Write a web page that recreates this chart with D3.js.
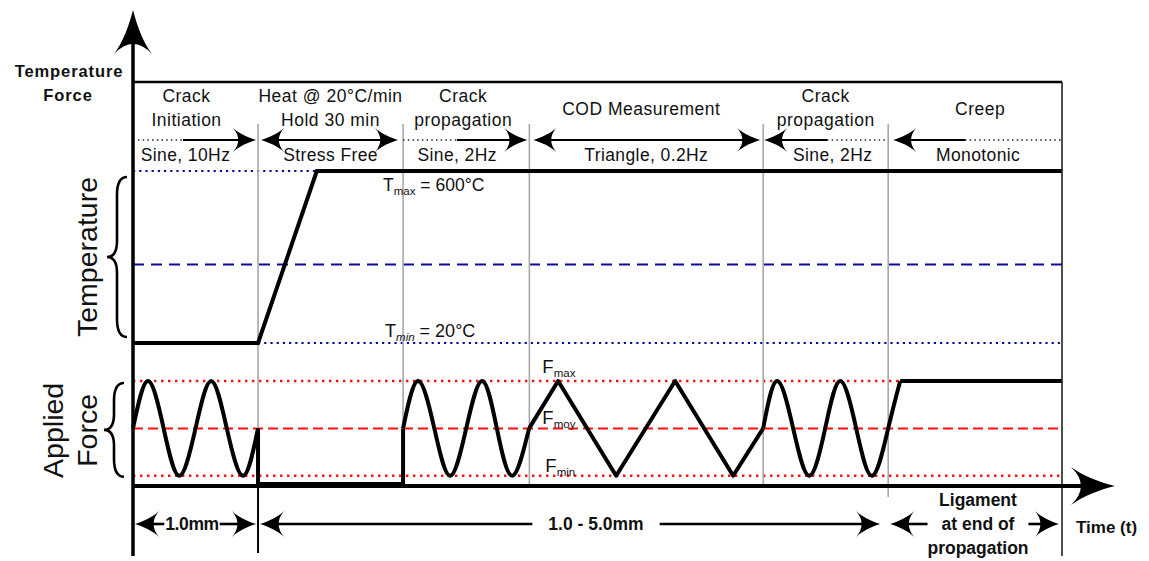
<!DOCTYPE html>
<html>
<head>
<meta charset="utf-8">
<script src="https://cdn.jsdelivr.net/npm/d3@7"></script>
<style>
  body { margin: 0; background: #fff; }
  svg { display: block; }
  text { font-family: "Liberation Sans", Arial, sans-serif; fill: #111; }
</style>
</head>
<body>
<script>
// DATA
// phase boundaries on the time axis (arbitrary time units)
var phaseT = [0, 1.0, 2.16, 3.17, 5.04, 6.04, 7.43];
var phaseTop = [["Crack", "Initiation"], ["Heat @ 20°C/min", "Hold 30 min"], ["Crack", "propagation"],
                ["COD Measurement"], ["Crack", "propagation"], ["Creep"]];
var phaseWave = ["Sine, 10Hz", "Stress Free", "Sine, 2Hz", "Triangle, 0.2Hz", "Sine, 2Hz", "Monotonic"];

// temperature history (°C)
var tempT = [0, 1.0, 1.47, 7.43];
var tempC = [20, 20, 600, 600];
var tMin = 20, tMid = 285, tMax = 600;

// force levels (normalised)
var fMin = 0.08, fMoy = 0.54, fMax = 1.0;

// force history, one piece per loading type
var sine1T = [0, 0.12, 0.245, 0.37, 0.5, 0.625, 0.75, 0.88, 1.0];
var sine1F = [0.54, 1, 0.54, 0.08, 0.54, 1, 0.54, 0.08, 0.54];
var restT = [1.0, 1.0, 2.16, 2.16];
var restF = [0.54, 0, 0, 0.54];
var sine2T = [2.16, 2.28, 2.41, 2.536, 2.665, 2.792, 2.91, 3.032, 3.168];
var sine2F = [0.54, 1, 0.54, 0.08, 0.54, 1, 0.54, 0.08, 0.54];
var triT = [3.168, 3.4, 3.864, 4.336, 4.8, 5.04];
var triF = [0.54, 1, 0.08, 1, 0.08, 0.54];
var sine3T = [5.04, 5.152, 5.28, 5.408, 5.536, 5.656, 5.784, 5.912, 6.04, 6.136];
var sine3F = [0.54, 1, 0.54, 0.08, 0.54, 1, 0.54, 0.08, 0.54, 1];
var holdT = [6.136, 7.43];
var holdF = [1, 1];

// crack length annotations under the time axis
var dimLabels = [["1.0mm"], ["1.0 - 5.0mm"], ["Ligament", "at end of", "propagation"]];

// SETUP
var width = 1149, height = 561;
var svg = d3.select("body").append("svg")
    .attr("width", width)
    .attr("height", height);

var x = d3.scaleLinear().domain([0, 7.43]).range([133, 1062]);
var yT = d3.scaleLinear().domain([20, 600]).range([343, 171]);
var yF = d3.scaleLinear().domain([0, 1]).range([484, 381]);

var axisY = 486;
var xEnd = x(phaseT[phaseT.length - 1]);

// fancy barbed arrow head, tip at (px,py), angle 0 = pointing right
function head(g, px, py, angle, L, W) {
    g.append("path")
        .attr("d", "M0,0 C" + (-L * 0.35) + "," + (-W * 0.2) + " " + (-L * 0.75) + "," + (-W * 0.55) + " " + (-L) + "," + (-W) +
            " Q" + (-L * 0.55) + ",0 " + (-L) + "," + W +
            " C" + (-L * 0.75) + "," + (W * 0.55) + " " + (-L * 0.35) + "," + (W * 0.2) + " 0,0Z")
        .attr("transform", "translate(" + px + "," + py + ") rotate(" + angle + ")")
        .attr("fill", "#000");
}

function hline(g, x1, x2, y, stroke, sw, dash) {
    var l = g.append("line")
        .attr("x1", x1).attr("x2", x2).attr("y1", y).attr("y2", y)
        .attr("stroke", stroke).attr("stroke-width", sw);
    if (dash) l.attr("stroke-dasharray", dash);
    return l;
}
function vline(g, xx, y1, y2, stroke, sw) {
    return g.append("line")
        .attr("x1", xx).attr("x2", xx).attr("y1", y1).attr("y2", y2)
        .attr("stroke", stroke).attr("stroke-width", sw);
}

// REFERENCE LEVELS
var blue = "#0a0a96", red = "#ff1010";
hline(svg, x(0), xEnd, yT(tMax), blue, 2.2, "2.2,4");
hline(svg, x(0), xEnd, yT(tMid), blue, 2, "11,7");
hline(svg, x(phaseT[1]), xEnd, yT(tMin), blue, 2.2, "2.2,4");
hline(svg, x(0), xEnd, yF(fMax), red, 2.4, "2.4,4.6");
hline(svg, x(0), xEnd, yF(fMoy), red, 2, "10,5");
hline(svg, x(0), xEnd, yF(fMin), red, 2.4, "2.4,4.6");

// PHASE SEPARATORS
phaseT.slice(1, -1).forEach(function(t, i) {
    vline(svg, x(t), 124, i == 4 ? 497 : axisY, "#a8a8a8", 1.6);
});

// TEMPERATURE CURVE
var tempData = tempT.map(function(t, i) { return [t, tempC[i]]; });
svg.append("path")
    .datum(tempData)
    .attr("fill", "none")
    .attr("stroke", "#000")
    .attr("stroke-width", 4)
    .attr("d", d3.line().x(d => x(d[0])).y(d => yT(d[1])));

// FORCE CURVE
var pieces = [
    [sine1T, sine1F, d3.curveNatural],
    [restT, restF, d3.curveLinear],
    [sine2T, sine2F, d3.curveNatural],
    [triT, triF, d3.curveLinear],
    [sine3T, sine3F, d3.curveNatural],
    [holdT, holdF, d3.curveLinear]
];
pieces.forEach(function(p) {
    var pts = p[0].map(function(t, i) { return [t, p[1][i]]; });
    svg.append("path")
        .datum(pts)
        .attr("fill", "none")
        .attr("stroke", "#000")
        .attr("stroke-width", 4)
        .attr("stroke-linejoin", "round")
        .attr("d", d3.line().curve(p[2]).x(d => x(d[0])).y(d => yF(d[1])));
});

// FRAME AND AXES
hline(svg, x(0), xEnd, 82, "#000", 2.5);
vline(svg, xEnd, 82, 556, "#222", 1.6);
vline(svg, x(0), 40, 556, "#000", 3.5);
head(svg, x(0), 10, -90, 44, 19);
hline(svg, x(0), 1085, axisY, "#000", 4);
head(svg, 1115, axisY, 0, 44, 19);
vline(svg, x(phaseT[1]), axisY, 553, "#000", 2);

// HEADER TEXT
phaseTop.forEach(function(lines, i) {
    var cx = (x(phaseT[i]) + x(phaseT[i + 1])) / 2 + (i == 0 ? -9 : i == 2 ? -3 : i == 3 ? -5 : i == 5 ? 5 : 0);
    var y0 = lines.length == 1 ? 115 : 102;
    lines.forEach(function(s, j) {
        svg.append("text")
            .attr("x", cx).attr("y", y0 + j * 24)
            .attr("text-anchor", "middle")
            .style("font-size", "17.5px")
            .style("letter-spacing", "0.5px")
            .text(s);
    });
});
phaseWave.forEach(function(s, i) {
    var cx = (x(phaseT[i]) + x(phaseT[i + 1])) / 2 + (i == 0 ? -10 : i == 2 ? -9 : i == 4 ? 7 : i == 5 ? 3 : 0);
    svg.append("text")
        .attr("x", cx).attr("y", 161)
        .attr("text-anchor", "middle")
        .style("font-size", "17.5px")
        .style("letter-spacing", "0.4px")
        .text(s);
});

// HEADER ARROWS
var ay = 140;
var dots = "1.5,3.2";
hline(svg, 138, 183, ay, "#222", 1.6, dots);
hline(svg, 183, 250, ay, "#000", 2.2);
head(svg, x(phaseT[1]) - 2, ay, 0, 23, 12);
head(svg, x(phaseT[1]) + 3, ay, 180, 23, 12);
hline(svg, x(phaseT[1]) + 8, x(phaseT[2]) - 10, ay, "#000", 2.2);
head(svg, x(phaseT[2]) - 5, ay, 0, 23, 12);
hline(svg, x(phaseT[2]), 457, ay, "#222", 1.6, dots);
hline(svg, 457, x(phaseT[3]) - 6, ay, "#000", 2.2);
head(svg, x(phaseT[3]) - 2, ay, 0, 23, 12);
head(svg, x(phaseT[3]) + 4, ay, 180, 23, 12);
hline(svg, x(phaseT[3]) + 10, x(phaseT[4]) - 8, ay, "#000", 2.2);
head(svg, x(phaseT[4]) - 3, ay, 0, 23, 12);
head(svg, x(phaseT[4]) + 1, ay, 180, 23, 12);
hline(svg, x(phaseT[4]) + 8, 827, ay, "#000", 2.2);
hline(svg, 827, x(phaseT[5]), ay, "#222", 1.6, dots);
head(svg, x(phaseT[5]) + 5, ay, 180, 23, 12);
hline(svg, x(phaseT[5]) + 12, 965, ay, "#000", 2.2);
hline(svg, 965, xEnd, ay, "#222", 1.6, dots);

// LEVEL LABELS
function subLabel(xx, yy, main, sub, rest, italic, size) {
    var t = svg.append("text").attr("x", xx).attr("y", yy).style("font-size", size + "px");
    t.append("tspan").text(main);
    t.append("tspan").attr("dy", 4).style("font-size", "11.5px")
        .style("font-style", italic ? "italic" : "normal").text(sub);
    if (rest) t.append("tspan").attr("dy", -4).text(rest);
    return t;
}
subLabel(x(phaseT[2]) - 20, yT(tMax) + 20, "T", "max", " = 600°C", false, 17.5);
subLabel(x(phaseT[2]) - 18, yT(tMin) - 6, "T", "min", " = 20°C", true, 18);
subLabel(x(phaseT[3]) + 13, yF(fMax) - 8, "F", "max", null, false, 18.5);
subLabel(x(phaseT[3]) + 13, yF(fMoy) - 4, "F", "moy", null, false, 18.5);
subLabel(x(phaseT[3]) + 16, yF(fMin) - 4, "F", "min", null, false, 18.5);

// LEFT LABELS
svg.append("text").attr("x", 69).attr("y", 77).attr("text-anchor", "middle")
    .style("font-size", "16.5px").style("font-weight", "bold").style("letter-spacing", "0.9px")
    .text("Temperature");
svg.append("text").attr("x", 68).attr("y", 101).attr("text-anchor", "middle")
    .style("font-size", "16.5px").style("font-weight", "bold").style("letter-spacing", "0.9px")
    .text("Force");

function rotLabel(xx, yy, s) {
    svg.append("text")
        .attr("transform", "translate(" + xx + "," + yy + ") rotate(-90)")
        .attr("text-anchor", "middle")
        .style("font-size", "28.5px")
        .text(s);
}
rotLabel(97, (yT(tMax) + yT(tMin)) / 2, "Temperature");
rotLabel(63, yF(fMoy) + 2, "Applied");
rotLabel(97, yF(fMoy) + 2, "Force");

function brace(xTip, y0, y1, w) {
    var m = (y0 + y1) / 2, xb = xTip + w * 0.5, xe = xTip + w;
    var d = "M" + xe + "," + y0 + " Q" + xb + "," + y0 + " " + xb + "," + (y0 + w * 0.9) +
        " L" + xb + "," + (m - w * 0.8) + " Q" + xb + "," + m + " " + xTip + "," + m +
        " Q" + xb + "," + m + " " + xb + "," + (m + w * 0.8) +
        " L" + xb + "," + (y1 - w * 0.9) + " Q" + xb + "," + y1 + " " + xe + "," + y1;
    svg.append("path").attr("d", d).attr("fill", "none")
        .attr("stroke", "#000").attr("stroke-width", 2.6);
}
brace(107, yT(tMax) + 6, yT(tMin) - 6, 20);
brace(104, yF(fMax) + 2, yF(fMin) + 1, 20);

// DIMENSIONS BELOW TIME AXIS
var dy = 524;
var dims = [
    { a: x(phaseT[0]) + 2, b: x(phaseT[1]) - 2, cx: 192, gap: 1 },
    { a: x(phaseT[1]) + 2, b: x(phaseT[5]) - 8, cx: 596, gap: 16 },
    { a: x(phaseT[5]) + 2, b: xEnd - 3, cx: 978, gap: 14 }
];
dims.forEach(function(dm, i) {
    var lines = dimLabels[i];
    var mid = Math.floor(lines.length / 2);
    var tl = 0;
    lines.forEach(function(s, j) {
        var t = svg.append("text")
            .attr("x", dm.cx).attr("y", dy + 6 + (j - mid) * 24)
            .attr("text-anchor", "middle")
            .style("font-size", "17.5px")
            .style("font-weight", "bold")
            .style("letter-spacing", i == 0 ? "-0.4px" : "0")
            .text(s);
        if (j == mid) tl = t.node().getComputedTextLength();
    });
    hline(svg, dm.a + 8, dm.cx - tl / 2 - dm.gap, dy, "#000", 2.6);
    hline(svg, dm.cx + tl / 2 + dm.gap, dm.b - 8, dy, "#000", 2.6);
    head(svg, dm.a, dy, 180, 24, 13);
    head(svg, dm.b, dy, 0, 24, 13);
});

svg.append("text").attr("x", 1076).attr("y", 533)
    .style("font-size", "17px").style("font-weight", "bold")
    .text("Time (t)");
</script>
</body>
</html>
